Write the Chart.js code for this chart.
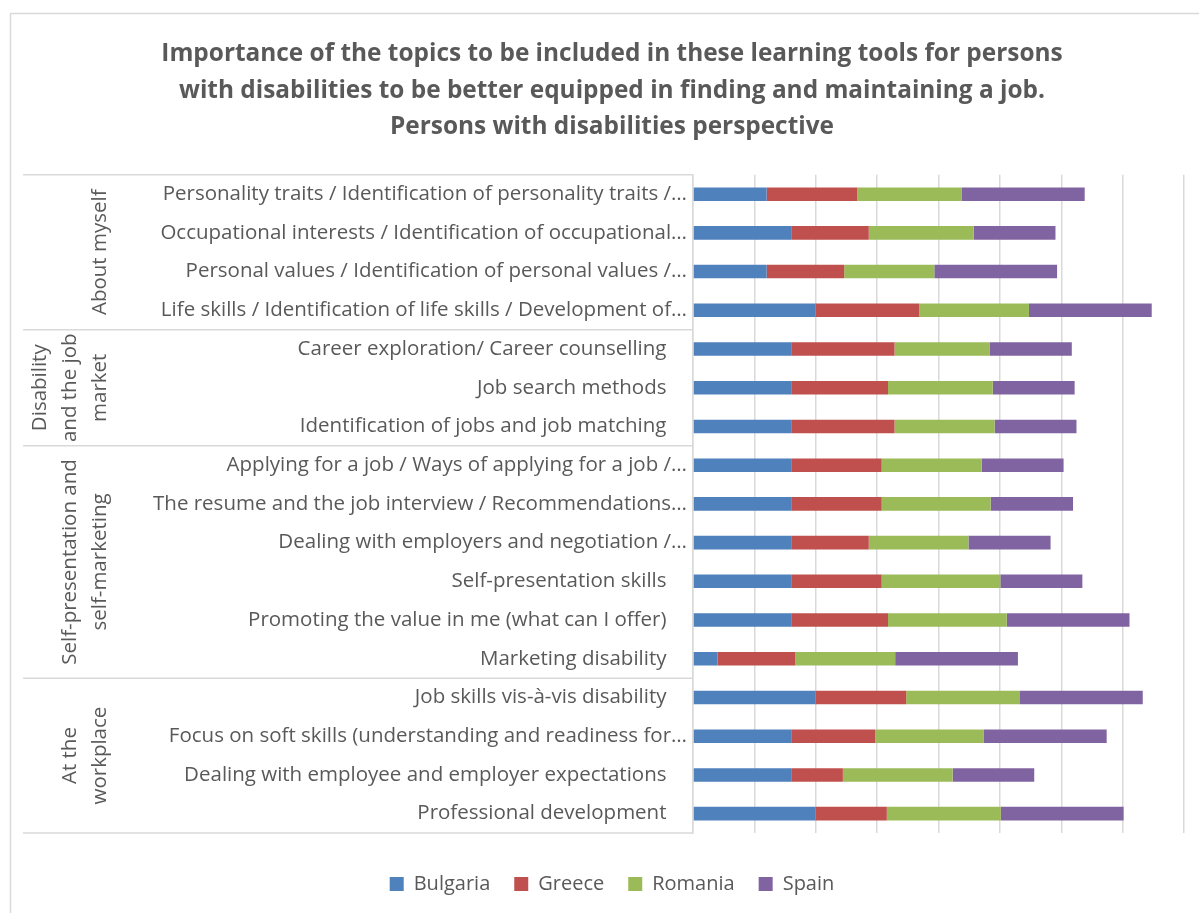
<!DOCTYPE html>
<html>
<head>
<meta charset="utf-8">
<script src="https://cdn.jsdelivr.net/npm/chart.js@4.4.1/dist/chart.umd.min.js"></script>
<style>
  html, body { margin: 0; padding: 0; background: #fff; }
  #wrap { width: 1200px; height: 913px; }
</style>
</head>
<body>
<div id="wrap"><canvas id="topics"></canvas></div>
<script>
const titleLines = [
    'Importance of the topics to be included in these learning tools for persons',
    'with disabilities to be better equipped in finding and maintaining a job.',
    'Persons with disabilities perspective'
];

const categories = [
    'Personality traits / Identification of personality traits /…',
    'Occupational interests / Identification of occupational…',
    'Personal values / Identification of personal values /…',
    'Life skills / Identification of life skills / Development of…',
    'Career exploration/ Career counselling',
    'Job search methods',
    'Identification of jobs and job matching',
    'Applying for a job / Ways of applying for a job /…',
    'The resume and the job interview / Recommendations…',
    'Dealing with employers and negotiation /…',
    'Self-presentation skills',
    'Promoting the value in me (what can I offer)',
    'Marketing disability',
    'Job skills vis-à-vis disability',
    'Focus on soft skills (understanding and readiness for…',
    'Dealing with employee and employer expectations',
    'Professional development'
];

const groupNames = [
    ['About myself'],
    ['Disability', 'and the job', 'market'],
    ['Self-presentation and', 'self-marketing'],
    ['At the', 'workplace']
];
const groupSizes = [4, 3, 6, 4];

const countries = ['Bulgaria', 'Greece', 'Romania', 'Spain'];
const colors = ['#4F81BD', '#C0504D', '#9BBB59', '#8064A2'];

// share of respondents (%) per topic
const bulgaria = [60, 80, 60, 100, 80, 80, 80, 80, 80, 80, 80, 80, 20, 100, 80, 80, 100];
const greece   = [73.7, 63.2, 63.2, 84.2, 84.2, 78.9, 84.2, 73.7, 73.7, 63.2, 73.7, 78.9, 63.2, 73.7, 68.4, 42.1, 57.9];
const romania  = [85.4, 85.4, 73.4, 89.5, 77.7, 85.3, 81.5, 81.5, 88.8, 81.2, 96.7, 96.7, 81.5, 92.7, 88.6, 89.4, 92.9];
const spain    = [100, 66.7, 100, 100, 66.7, 66.7, 66.7, 66.7, 67.1, 66.9, 66.8, 100, 100, 100, 100, 66.5, 100];

const textColor = '#595959';
const lineColor = '#D9D9D9';
const font = 'Open Sans';
const labelSize = 20.5;
const padLeft = 40;

// white page plus the thin frame round the chart
const framePlugin = {
    id: 'frame',
    beforeDraw(chart) {
        const ctx = chart.ctx;
        ctx.save();
        ctx.fillStyle = '#fff';
        ctx.fillRect(0, 0, chart.width, chart.height);
        ctx.strokeStyle = lineColor;
        ctx.lineWidth = 1.5;
        ctx.beginPath();
        ctx.moveTo(10.5, chart.height + 2);
        ctx.lineTo(10.5, 13.5);
        ctx.lineTo(1199, 13.5);
        ctx.stroke();
        ctx.restore();
    }
};

// second level of the category axis: group boxes and rotated names
const groupPlugin = {
    id: 'groups',
    afterDraw(chart) {
        const ctx = chart.ctx;
        const y = chart.scales.y;
        const half = (y.getPixelForValue(1) - y.getPixelForValue(0)) / 2;
        const right = chart.chartArea.left;
        ctx.save();
        ctx.strokeStyle = lineColor;
        ctx.lineWidth = 1.5;
        let start = 0;
        const hline = (py) => {
            ctx.beginPath();
            ctx.moveTo(23, py);
            ctx.lineTo(right, py);
            ctx.stroke();
        };
        hline(y.getPixelForValue(0) - half);
        groupSizes.forEach((size, g) => {
            const top = y.getPixelForValue(start) - half;
            const bottom = y.getPixelForValue(start + size - 1) + half;
            hline(bottom);
            const lines = groupNames[g];
            ctx.fillStyle = textColor;
            ctx.font = labelSize + 'px "' + font + '"';
            ctx.textAlign = 'center';
            ctx.textBaseline = 'middle';
            lines.forEach((txt, i) => {
                const x = 100 - (lines.length - 1 - i) * 30;
                ctx.save();
                ctx.translate(x, (top + bottom) / 2);
                ctx.rotate(-Math.PI / 2);
                ctx.fillText(txt, 0, 0);
                ctx.restore();
            });
            start += size;
        });
        ctx.restore();
    }
};

const series = [bulgaria, greece, romania, spain];

new Chart(document.getElementById('topics'), {
    type: 'bar',
    data: {
        labels: categories,
        datasets: countries.map((name, i) => ({
            label: name,
            data: series[i],
            backgroundColor: colors[i],
            borderWidth: 0,
            barPercentage: 0.35,
            categoryPercentage: 1
        }))
    },
    options: {
        indexAxis: 'y',
        responsive: true,
        maintainAspectRatio: false,
        animation: false,
        layout: { padding: { left: padLeft, right: 16, top: 0, bottom: 9 } },
        scales: {
            x: {
                stacked: true,
                min: 0,
                max: 400,
                ticks: { display: false, stepSize: 50 },
                grid: { color: lineColor, lineWidth: 1.5, drawTicks: false },
                border: { display: false },
                afterFit: (scale) => { scale.height = 17; }
            },
            y: {
                stacked: true,
                grid: { display: false, drawTicks: false },
                border: { color: lineColor, width: 1.5 },
                ticks: {
                    color: textColor,
                    font: { family: font, size: labelSize },
                    padding: 6,
                    autoSkip: false,
                    callback: function (value) {
                        const label = this.getLabelForValue(value);
                        return label.endsWith('…') ? label : label + '\u2002\u2002';
                    }
                },
                afterFit: (scale) => { scale.width = 693 - padLeft; }
            }
        },
        plugins: {
            title: {
                display: true,
                text: titleLines,
                color: textColor,
                font: { family: font, size: 24.4, weight: 'bold', lineHeight: 1.5 },
                padding: { top: 36, bottom: 29 }
            },
            legend: {
                position: 'bottom',
                labels: {
                    color: textColor,
                    font: { family: font, size: 20 },
                    boxWidth: 14,
                    boxHeight: 14,
                    padding: 24
                }
            },
            tooltip: { enabled: false }
        }
    },
    plugins: [framePlugin, groupPlugin]
});
</script>
</body>
</html>
